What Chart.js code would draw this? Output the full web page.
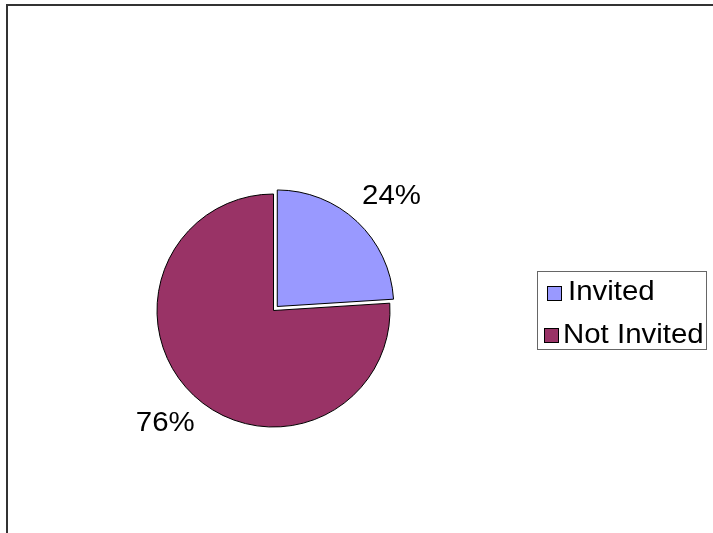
<!DOCTYPE html>
<html>
<head>
<meta charset="utf-8">
<script src="https://cdn.jsdelivr.net/npm/chart.js@4"></script>
<style>
  html, body { margin: 0; padding: 0; background: #fff; }
  #wrap { position: relative; width: 713px; height: 533px; overflow: hidden; }
  #frame { position: absolute; left: 6px; top: 4px; right: -4px; bottom: -4px;
           border-top: 2px solid #333; border-left: 2px solid #333; }
  canvas { position: absolute; left: 0; top: 0; }
</style>
</head>
<body>
<div id="wrap">
  <div id="frame"></div>
  <canvas id="pie" width="713" height="533"></canvas>
</div>
<script>
const categories = ['Invited', 'Not Invited'];
const shares = [24, 76];
const colors = ['#9999FF', '#993366'];

const FONT = '27px "Liberation Sans", Arial, sans-serif';
const STRETCH = 1.09;

// percentage labels just outside each slice
const pctLabels = {
  id: 'pctLabels',
  afterDatasetsDraw(chart) {
    const ctx = chart.ctx;
    const meta = chart.getDatasetMeta(0);
    const total = shares.reduce((a, b) => a + b, 0);
    ctx.save();
    ctx.font = FONT;
    ctx.fillStyle = '#000';
    ctx.textBaseline = 'middle';
    ctx.textAlign = 'center';
    meta.data.forEach((arc, i) => {
      const p = arc.getProps(['x', 'y', 'startAngle', 'endAngle', 'outerRadius'], true);
      const mid = (p.startAngle + p.endAngle) / 2;
      const off = (arc.options.offset || 0) / 4;
      const cx = p.x + Math.cos(mid) * off, cy = p.y + Math.sin(mid) * off;
      const txt = Math.round(shares[i] / total * 100) + '%';
      const r = p.outerRadius + 23;
      const x = cx + Math.cos(mid) * (r + 23) + 3;
      const y = cy + Math.sin(mid) * (r + 13) + 1.5;
      ctx.save();
      ctx.translate(x, y);
      ctx.scale(STRETCH, 1);
      ctx.fillText(txt, 0, 0);
      ctx.restore();
    });
    ctx.restore();
  }
};

// boxed legend on the right
const legendItems = [
  { box: [547, 286], text: [568, 300] },
  { box: [544, 328], text: [563, 343] }
];
const boxLegend = {
  id: 'boxLegend',
  afterDraw(chart) {
    const ctx = chart.ctx;
    ctx.save();
    ctx.strokeStyle = '#666';
    ctx.lineWidth = 1;
    ctx.strokeRect(537.5, 271.5, 169, 78);
    ctx.font = FONT;
    ctx.textBaseline = 'alphabetic';
    chart.data.labels.forEach((lab, i) => {
      const it = legendItems[i];
      ctx.fillStyle = chart.data.datasets[0].backgroundColor[i];
      ctx.fillRect(it.box[0], it.box[1], 14, 14);
      ctx.strokeStyle = '#000';
      ctx.strokeRect(it.box[0] + 0.5, it.box[1] + 0.5, 14, 14);
      ctx.fillStyle = '#000';
      ctx.save();
      ctx.translate(it.text[0], it.text[1]);
      ctx.scale(STRETCH, 1);
      ctx.fillText(lab, 0, 0);
      ctx.restore();
    });
    ctx.restore();
  }
};

new Chart(document.getElementById('pie'), {
  type: 'pie',
  data: {
    labels: categories,
    datasets: [{
      data: shares,
      backgroundColor: colors,
      borderColor: '#000',
      borderWidth: 1,
      offset: [22, 0]
    }]
  },
  options: {
    responsive: false,
    animation: false,
    radius: 116.5,
    layout: { padding: { left: 143.5, right: 309.5, top: 180.5, bottom: 92.5 } },
    plugins: {
      legend: { display: false },
      tooltip: { enabled: false }
    }
  },
  plugins: [pctLabels, boxLegend]
});
</script>
</body>
</html>
